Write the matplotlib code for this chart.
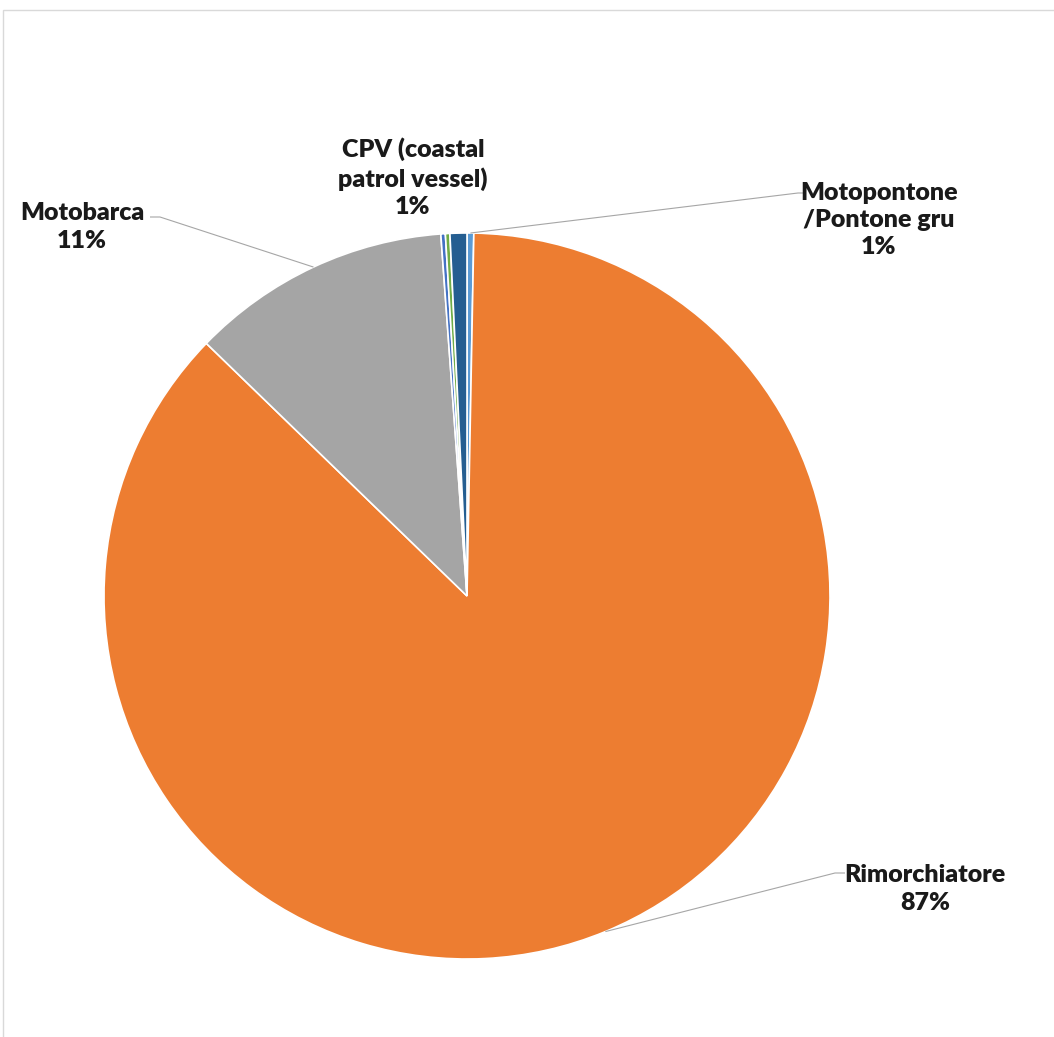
import matplotlib
matplotlib.use("Agg")
import matplotlib.pyplot as plt
import numpy as np
from matplotlib.patches import Rectangle

# slices, clockwise from 12 o'clock
categories = ["Motopontone\n/Pontone gru", "Rimorchiatore", "Motobarca",
              "Altro 1", "Altro 2", "CPV (coastal\npatrol vessel)"]
values = [0.3, 86.95, 11.6, 0.2, 0.2, 0.75]
shown_pct = ["1%", "87%", "11%", None, None, "1%"]
colors = ["#5B9BD5", "#ED7D31", "#A5A5A5", "#4472C4", "#70AD47", "#255E91"]

W, H = 1054, 1037
cx, cy, R = 467, 596, 363

fig = plt.figure(figsize=(W / 100, H / 100), dpi=100)
ax = fig.add_axes([(cx - R) / W, (H - cy - R) / H, 2 * R / W, 2 * R / H])

wedges, _ = ax.pie(values, colors=colors, startangle=90, counterclock=False,
                   radius=1, wedgeprops=dict(edgecolor="white", linewidth=1.2))
ax.set_xlim(-1, 1)
ax.set_ylim(-1, 1)
ax.set_aspect("equal")
ax.axis("off")


def px(x, y):
    # pixel position -> data coords of the pie axes
    return (x - cx) / R, (cy - y) / R


def mid_edge(i):
    w = wedges[i]
    a = np.deg2rad((w.theta1 + w.theta2) / 2)
    return np.cos(a), np.sin(a)


font = dict(family=["Lato", "DejaVu Sans"], weight="heavy", fontsize=18,
            color="#1a1a1a", ha="center", va="center", linespacing=1.3)
line_col = "#a6a6a6"

# label placement (pixels) and leader line end points
label_pos = {0: (879, 220), 1: (925, 889), 2: (82, 227), 5: (413, 178)}
leader_end = {0: [(798, 193), (803, 193)], 1: [(835, 873), (845, 873)],
              2: [(160, 217), (150, 217)]}

for i, (tx, ty) in label_pos.items():
    name = categories[i]
    ax.text(*px(tx, ty), name + "\n" + shown_pct[i], **font)
    if i in leader_end:
        x0, y0 = mid_edge(i)
        pts = [(x0, y0)] + [px(*p) for p in leader_end[i]]
        xs, ys = zip(*pts)
        ax.plot(xs, ys, color=line_col, lw=0.8, clip_on=False, solid_capstyle="butt")

# chart area frame (only top and left edges show)
fig.patches.append(Rectangle((3 / W, -0.1), 1.2, (H - 10) / H + 0.1,
                             transform=fig.transFigure, fill=False,
                             edgecolor="#d9d9d9", linewidth=1))

fig.savefig("out.png", dpi=100, facecolor="white")
